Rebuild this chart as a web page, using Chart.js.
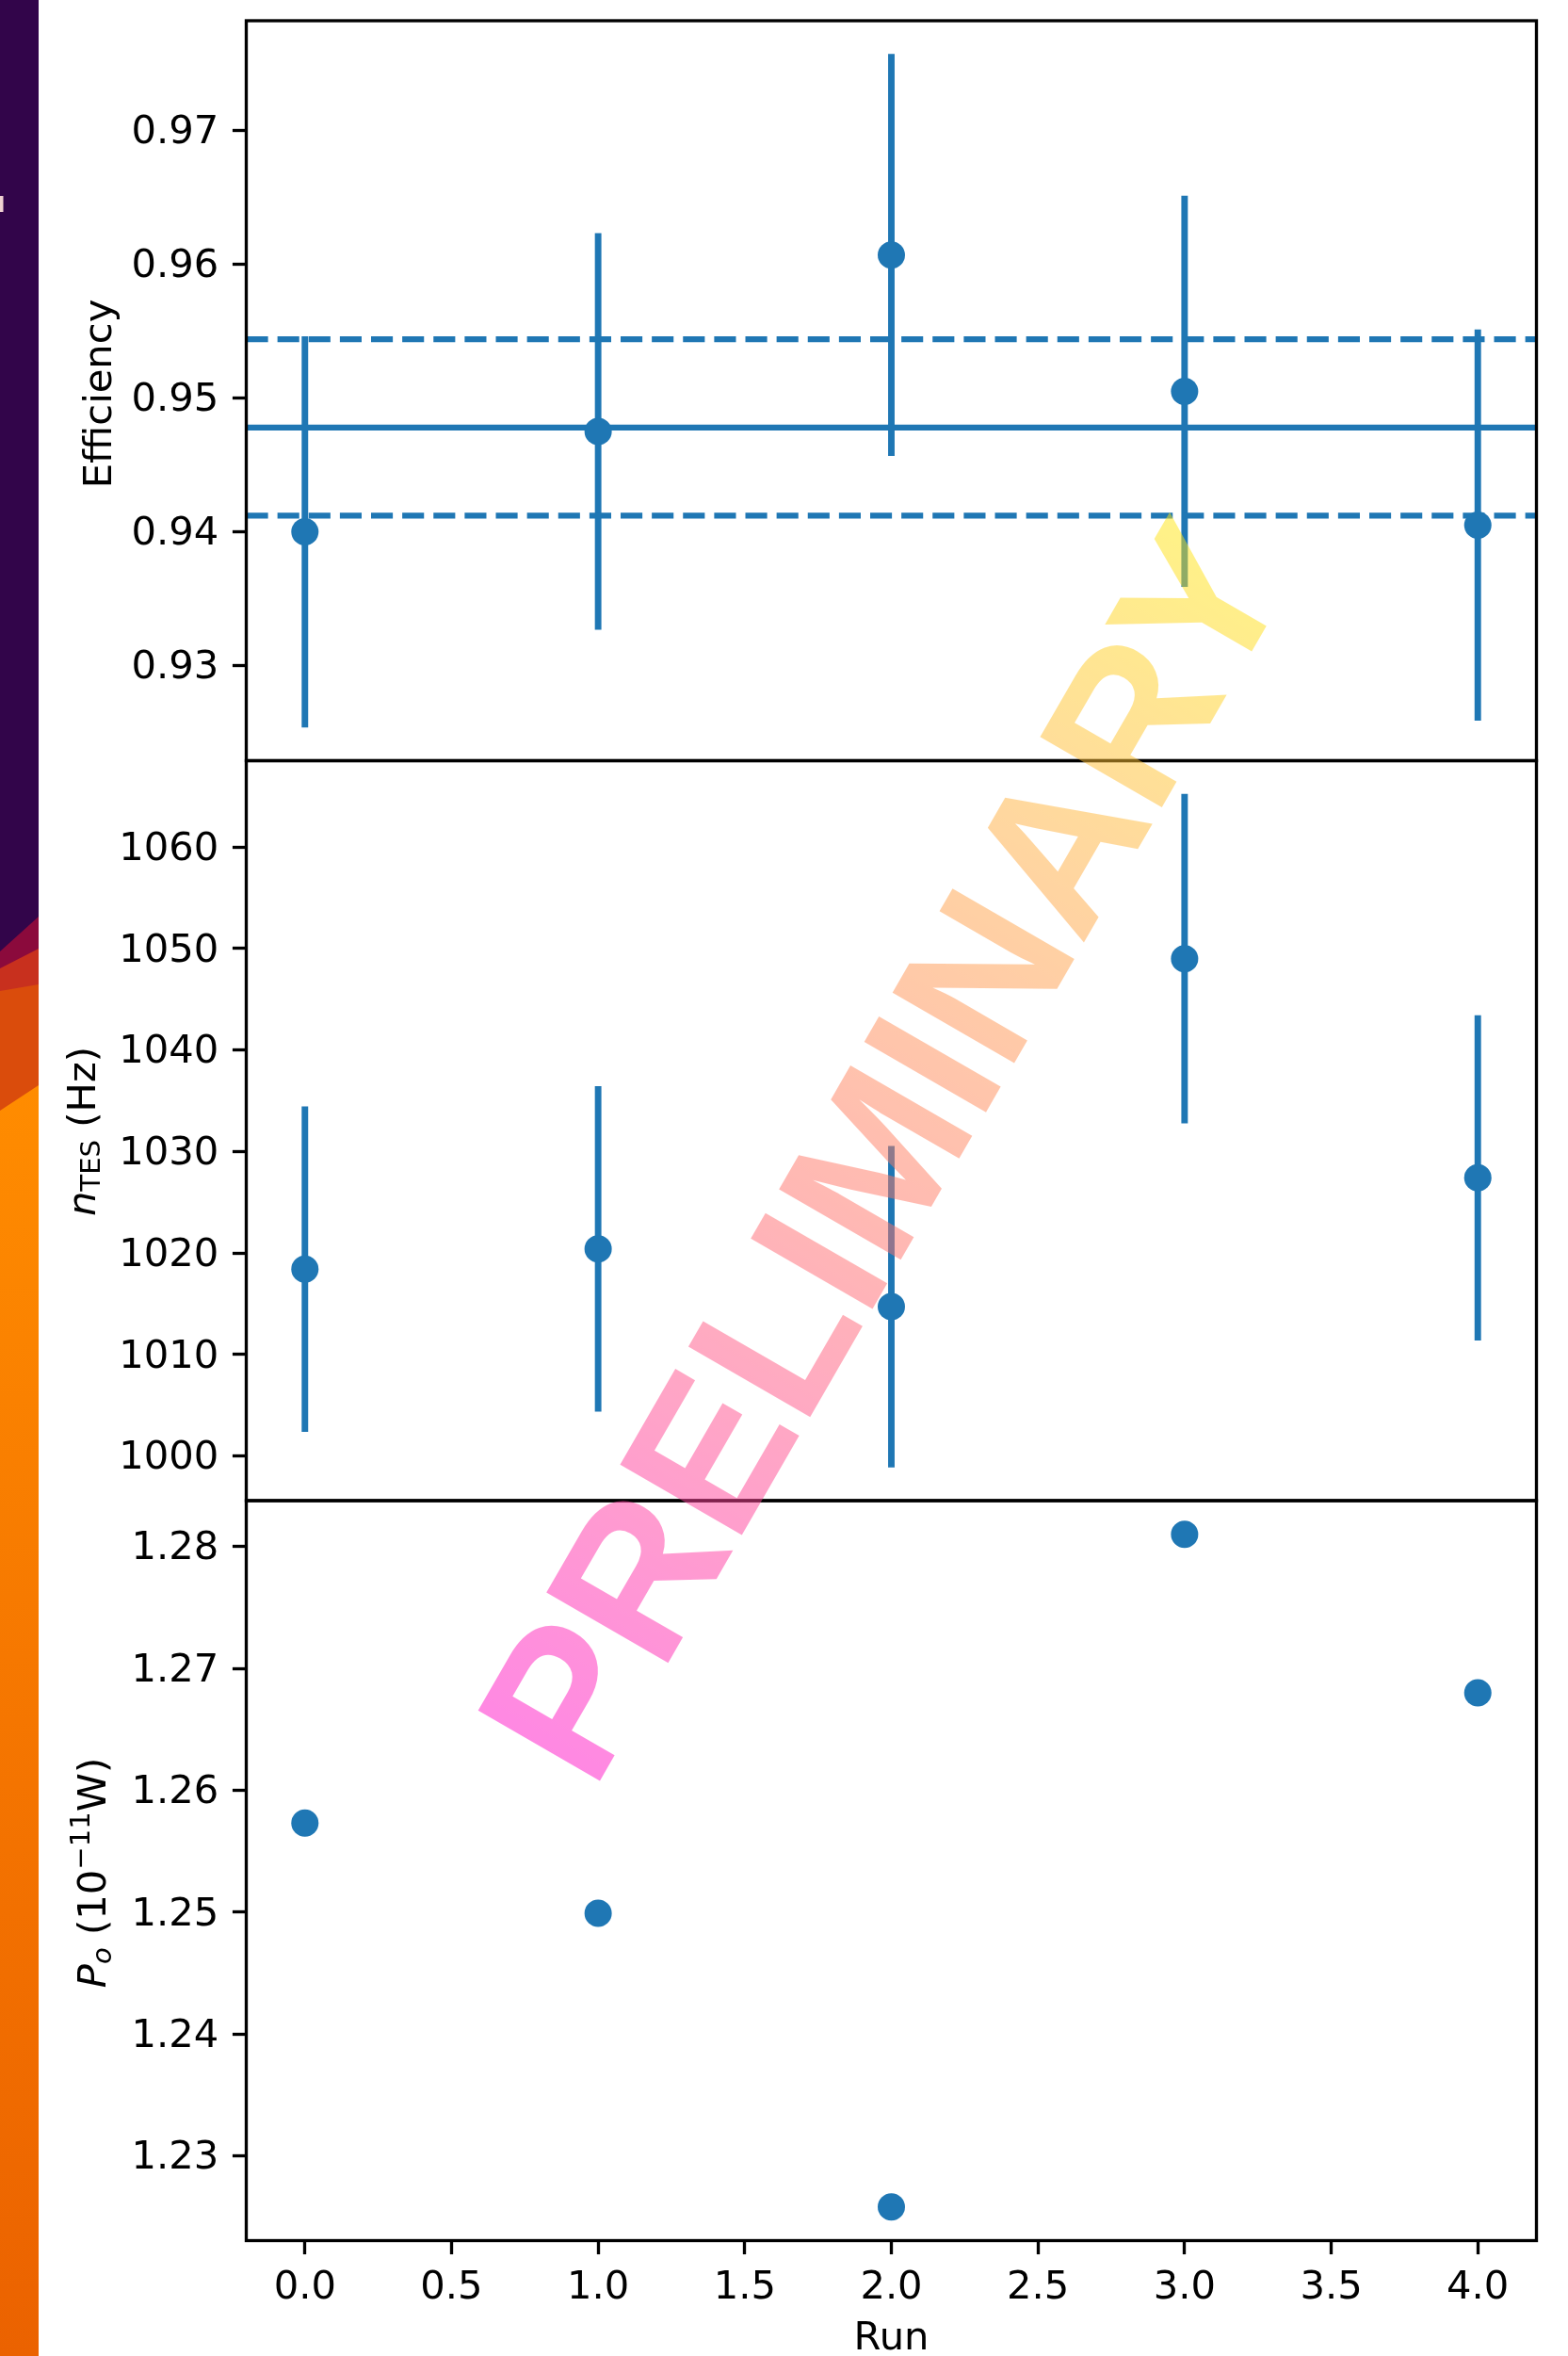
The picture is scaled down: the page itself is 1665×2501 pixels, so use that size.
<!DOCTYPE html>
<html>
<head>
<meta charset="utf-8">
<title>Run stability</title>
<script src="https://cdn.jsdelivr.net/npm/chart.js@4.4.1/dist/chart.umd.min.js"></script>
<style>
  html, body { margin: 0; padding: 0; background: #ffffff; }
  #page { position: relative; width: 1665px; height: 2501px; overflow: hidden; background: #ffffff; }
  #strip { position: absolute; left: 0; top: 0; }
  canvas.panel { position: absolute; left: 0; }
  #titles { position: absolute; left: 0; top: 0; pointer-events: none; }
  #titles text { white-space: pre; }
  #stamp {
    position: absolute; left: 937px; top: 1222px;
    transform: translate(-50%, -50%) rotate(-60deg);
    font-family: "Liberation Sans", Arial, sans-serif; font-weight: bold;
    font-size: 217px; line-height: 1; white-space: nowrap;
    background: linear-gradient(90deg, #ff11c9 0%, #ff7369 45%, #ffaf41 75%, #ffe70f 100%);
    -webkit-background-clip: text; background-clip: text; color: transparent;
    opacity: 0.5; pointer-events: none;
  }
</style>
</head>
<body>
<div id="page">
  <svg id="strip" width="41" height="2501" viewBox="0 0 41 2501">
    <defs>
      <linearGradient id="orangeFade" x1="0" y1="1150" x2="0" y2="2501" gradientUnits="userSpaceOnUse">
        <stop offset="0" stop-color="#ff8c00"/>
        <stop offset="0.45" stop-color="#f67800"/>
        <stop offset="1" stop-color="#eb6200"/>
      </linearGradient>
    </defs>
    <rect x="0" y="0" width="41" height="2501" fill="url(#orangeFade)"/>
    <polygon points="0,0 41,0 41,1152 0,1179" fill="#da4c0c"/>
    <polygon points="0,0 41,0 41,1045 0,1052" fill="#c8301e"/>
    <polygon points="0,0 41,0 41,1007 0,1028" fill="#8b0a3c"/>
    <polygon points="0,0 41,0 41,973 0,1010" fill="#32054a"/>
    <rect x="0" y="208" width="3.5" height="17" fill="#f0d2d2"/>
  </svg>
  <svg id="titles" width="1665" height="2501" font-family="DejaVu Sans" font-size="41.67" fill="#000">
    <text transform="translate(118,418) rotate(-90)" text-anchor="middle">Efficiency</text>
    <text transform="translate(101,1201) rotate(-90)" text-anchor="middle"><tspan font-style="italic">n</tspan><tspan font-size="29.17" dy="5">TES</tspan><tspan dy="-5"> (Hz)</tspan></text>
    <text transform="translate(111.5,1988) rotate(-90)" text-anchor="middle"><tspan font-style="italic">P</tspan><tspan font-style="italic" font-size="29.17" dy="6.5">o</tspan><tspan dy="-6.5"> (10</tspan><tspan font-size="29.17" dy="-16.5">&#8722;11</tspan><tspan dy="16.5">W)</tspan></text>
    <text x="946.5" y="2494" text-anchor="middle">Run</text>
  </svg>
  <div id="stamp">PRELIMINARY</div>
</div>
<script>
// ---- measurements per run ----
const runs = [0, 1, 2, 3, 4];

const efficiency    = [0.9400, 0.9475, 0.9607, 0.9505, 0.9405];
const efficiencyErr = [0.0146, 0.0148, 0.0150, 0.0146, 0.0146];
const efficiencyMean    = 0.9478;   // weighted mean
const efficiencyMeanErr = 0.0066;   // its uncertainty (dashed band)

const nTes    = [1018.4, 1020.4, 1014.7, 1049.0, 1027.4];
const nTesErr = [16.0, 16.0, 15.8, 16.2, 16.0];

const p0 = [1.2573, 1.2499, 1.2258, 1.2810, 1.2680];

// ---- tick values and labels ----
const runTicks       = [0, 0.5, 1, 1.5, 2, 2.5, 3, 3.5, 4];
const runTickLabels  = ['0.0', '0.5', '1.0', '1.5', '2.0', '2.5', '3.0', '3.5', '4.0'];
const effTicks       = [0.93, 0.94, 0.95, 0.96, 0.97];
const effTickLabels  = ['0.93', '0.94', '0.95', '0.96', '0.97'];
const nTesTicks      = [1000, 1010, 1020, 1030, 1040, 1050, 1060];
const nTesTickLabels = ['1000', '1010', '1020', '1030', '1040', '1050', '1060'];
const p0Ticks        = [1.23, 1.24, 1.25, 1.26, 1.27, 1.28];
const p0TickLabels   = ['1.23', '1.24', '1.25', '1.26', '1.27', '1.28'];

// ---- styling (figure drawn at 300 dpi: 1 pt = 300/72 px) ----
const PT = 300 / 72;
const BLUE = '#1f77b4';
const FONT = { family: 'DejaVu Sans', size: 41.67 };
const LINE_W = 1.5 * PT;
const SPINE_W = 0.8 * PT;
const TICK_LEN = 3.5 * PT;
const TICK_PAD = 3.5 * PT;
const MARKER_R = 14.5;
const DASH = [3.7 * 1.5 * PT, 1.6 * 1.5 * PT];

const AXES_LEFT = 261.5;
const AXES_RIGHT = 1631.5;
const PAGE_W = 1665;

// autoscale with 5% margins, like the plotting defaults
function paddedRange(lo, hi) {
  const pad = 0.05 * (hi - lo);
  return [lo - pad, hi + pad];
}
function extent(values, errs) {
  const lo = Math.min(...values.map((v, i) => v - (errs ? errs[i] : 0)));
  const hi = Math.max(...values.map((v, i) => v + (errs ? errs[i] : 0)));
  return paddedRange(lo, hi);
}
const runRange = paddedRange(Math.min(...runs), Math.max(...runs));

// box around each axes area
const framePlugin = {
  id: 'frame',
  afterDatasetsDraw(chart) {
    const { ctx, chartArea: a } = chart;
    ctx.save();
    ctx.strokeStyle = '#000';
    ctx.lineWidth = SPINE_W;
    ctx.strokeRect(a.left, a.top, a.right - a.left, a.bottom - a.top);
    ctx.restore();
  }
};

const page = document.getElementById('page');

function makePanel(cfg) {
  const canvas = document.createElement('canvas');
  canvas.className = 'panel';
  canvas.width = PAGE_W;
  canvas.height = cfg.canvasHeight;
  canvas.style.top = cfg.canvasTop + 'px';
  canvas.style.width = PAGE_W + 'px';
  canvas.style.height = cfg.canvasHeight + 'px';
  page.insertBefore(canvas, document.getElementById('titles'));

  const datasets = [];
  if (cfg.err) {
    datasets.push({
      type: 'bar',
      data: runs.map((r, i) => ({ x: r, y: [cfg.values[i] - cfg.err[i], cfg.values[i] + cfg.err[i]] })),
      backgroundColor: BLUE, borderWidth: 0, barThickness: LINE_W, grouped: false, order: 3
    });
  }
  (cfg.refLines || []).forEach(l => {
    datasets.push({
      type: 'line',
      data: [{ x: runRange[0], y: l.value }, { x: runRange[1], y: l.value }],
      borderColor: BLUE, borderWidth: LINE_W, borderDash: l.dashed ? DASH : [],
      pointRadius: 0, fill: false, order: 2
    });
  });
  datasets.push({
    type: 'scatter',
    data: runs.map((r, i) => ({ x: r, y: cfg.values[i] })),
    backgroundColor: BLUE, borderWidth: 0, pointRadius: MARKER_R, pointHoverRadius: MARKER_R, order: 1
  });

  const tickGrid = { display: true, drawOnChartArea: false, drawTicks: true, tickLength: TICK_LEN, tickWidth: SPINE_W, tickColor: '#000' };
  const noScalePadding = s => { s.paddingTop = 0; s.paddingBottom = 0; s.paddingLeft = 0; s.paddingRight = 0; };

  return new Chart(canvas, {
    type: 'scatter',
    data: { datasets },
    options: {
      responsive: false, animation: false, devicePixelRatio: 1, events: [],
      layout: { autoPadding: false, padding: { top: cfg.padTop, bottom: cfg.padBottom, left: 0, right: PAGE_W - AXES_RIGHT } },
      plugins: { legend: { display: false }, tooltip: { enabled: false } },
      scales: {
        x: {
          type: 'linear', min: runRange[0], max: runRange[1], bounds: 'data', offset: false,
          display: cfg.showX,
          afterBuildTicks: s => { s.ticks = runTicks.map(v => ({ value: v })); },
          afterFit: s => { noScalePadding(s); if (cfg.showX) s.height = cfg.xHeight; },
          ticks: { callback: v => runTickLabels[runTicks.indexOf(v)], font: FONT, color: '#000', padding: 10.6, maxRotation: 0, autoSkip: false },
          grid: tickGrid, border: { display: false }
        },
        y: {
          type: 'linear', min: cfg.range[0], max: cfg.range[1], bounds: 'data',
          afterBuildTicks: s => { s.ticks = cfg.ticks.map(v => ({ value: v })); },
          afterFit: s => { noScalePadding(s); s.width = AXES_LEFT; },
          ticks: { callback: v => cfg.tickLabels[cfg.ticks.indexOf(v)], font: FONT, color: '#000', padding: TICK_PAD, labelOffset: 3, autoSkip: false },
          grid: tickGrid, border: { display: false }
        }
      }
    },
    plugins: [framePlugin]
  });
}

// Efficiency with weighted mean and its band
makePanel({
  canvasTop: 0, canvasHeight: 830, padTop: 22, padBottom: 22.5, showX: false,
  values: efficiency, err: efficiencyErr, range: extent(efficiency, efficiencyErr),
  ticks: effTicks, tickLabels: effTickLabels,
  refLines: [
    { value: efficiencyMean + efficiencyMeanErr, dashed: true },
    { value: efficiencyMean, dashed: false },
    { value: efficiencyMean - efficiencyMeanErr, dashed: true }
  ]
});

// n_TES
makePanel({
  canvasTop: 785, canvasHeight: 830, padTop: 22.5, padBottom: 22, showX: false,
  values: nTes, err: nTesErr, range: extent(nTes, nTesErr),
  ticks: nTesTicks, tickLabels: nTesTickLabels
});

// P_o
makePanel({
  canvasTop: 1570, canvasHeight: 931, padTop: 23, padBottom: 0, showX: true, xHeight: 122.5,
  values: p0, err: null, range: extent(p0, null),
  ticks: p0Ticks, tickLabels: p0TickLabels
});
</script>
</body>
</html>
